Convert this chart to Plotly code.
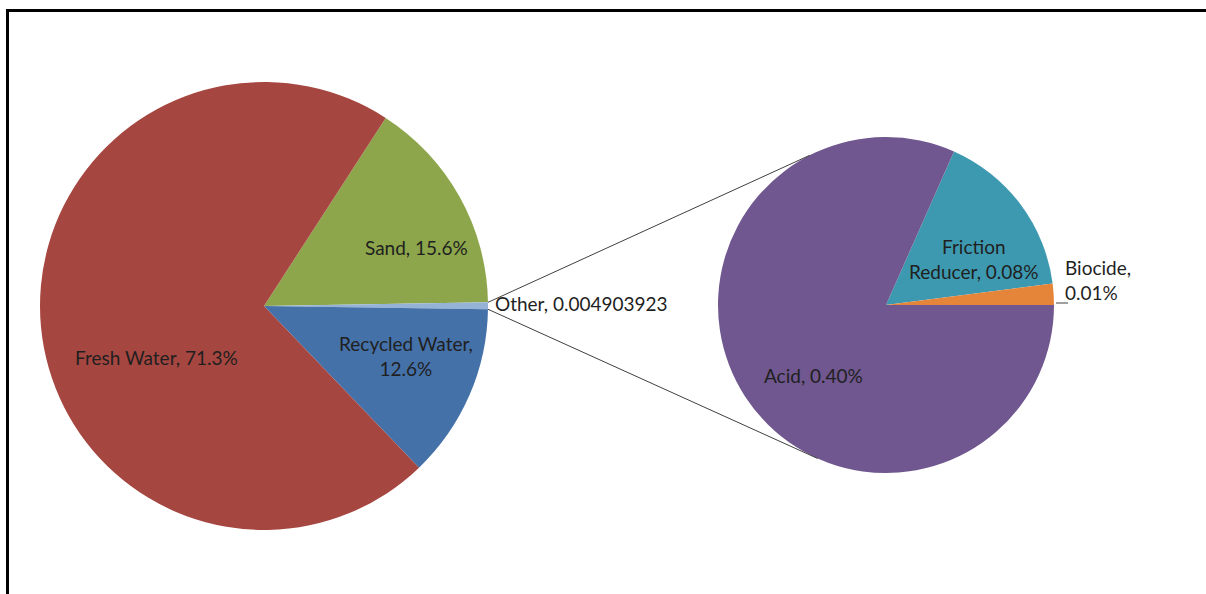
import math
import plotly.graph_objects as go

# ---------------- data ----------------
main_labels = ["Sand", "Other", "Recycled Water", "Fresh Water"]
main_values = [15.6, 0.4903923, 12.6, 71.3]          # percent
main_colors = ["#8DA64B", "#95B3D7", "#4571A9", "#A64640"]

sub_labels = ["Friction Reducer", "Biocide", "Acid"]
sub_values = [0.08, 0.01, 0.40]                     # percent
sub_colors = ["#3D99B0", "#E5853A", "#70578F"]

# ---------------- geometry (pixels) ----------------
W, H = 1206, 594
L_CX, L_CY, L_R = 264, 306, 224
R_CX, R_CY, R_R = 886, 305, 168
FONT = dict(family="Lato, 'Open Sans', sans-serif", size=19, color="#1f1f1f")


def px(x):
    return x / W


def py(y):
    return 1 - y / H


def dom(cx, cy, r):
    return dict(x=[px(cx - r), px(cx + r)], y=[py(cy + r), py(cy - r)])


main_total = sum(main_values)
main_rotation = 32.9
start_angle = 90 - main_rotation   # math angle where the first (Sand) slice starts

sub_total = sum(sub_values)
# secondary pie: Biocide slice starts at 3 o'clock, slices run clockwise from Friction
sub_rotation = 90 - 360 * (sub_values[0] + sub_values[1]) / sub_total

fig = go.Figure()
fig.add_trace(go.Pie(
    labels=main_labels, values=main_values, sort=False,
    direction="clockwise", rotation=main_rotation,
    marker=dict(colors=main_colors, line=dict(width=0)),
    textinfo="none", hoverinfo="label+value", showlegend=False,
    domain=dom(L_CX, L_CY, L_R),
))
fig.add_trace(go.Pie(
    labels=sub_labels, values=sub_values, sort=False,
    direction="clockwise", rotation=sub_rotation,
    marker=dict(colors=sub_colors, line=dict(width=0)),
    textinfo="none", hoverinfo="label+value", showlegend=False,
    domain=dom(R_CX, R_CY, R_R),
))

# --- connector lines from the "Other" slice to the secondary pie ---
a0 = start_angle - 360 * main_values[0] / main_total
a1 = a0 - 360 * main_values[1] / main_total
shapes = []
for a_main, a_sub in [(a0, 117), (a1, -114)]:
    x0 = L_CX + L_R * math.cos(math.radians(a_main))
    y0 = L_CY - L_R * math.sin(math.radians(a_main))
    x1 = R_CX + R_R * math.cos(math.radians(a_sub))
    y1 = R_CY - R_R * math.sin(math.radians(a_sub))
    shapes.append(dict(type="line", xref="paper", yref="paper",
                       x0=px(x0), y0=py(y0), x1=px(x1), y1=py(y1),
                       line=dict(color="#404040", width=1)))

# biocide leader line
shapes.append(dict(type="line", xref="paper", yref="paper",
                   x0=px(1056), y0=py(303), x1=px(1068), y1=py(303),
                   line=dict(color="#404040", width=1)))

# frame (top and left edges)
shapes.append(dict(type="line", xref="paper", yref="paper",
                   x0=px(6), y0=py(10.5), x1=1, y1=py(10.5),
                   line=dict(color="black", width=3)))
shapes.append(dict(type="line", xref="paper", yref="paper",
                   x0=px(7.5), y0=py(9), x1=px(7.5), y1=0,
                   line=dict(color="black", width=3)))

# --- labels ---
def pct(v):
    return f"{v:.1f}%"


label_text = {
    "Sand": f"{main_labels[0]}, {pct(main_values[0])}",
    "Other": f"{main_labels[1]}, {main_values[1] / 100:.9f}",
    "Recycled Water": f"{main_labels[2]},<br>{pct(main_values[2])}",
    "Fresh Water": f"{main_labels[3]}, {pct(main_values[3])}",
    "Biocide": f"{sub_labels[1]},<br>{sub_values[1]:.2f}%",
    "Friction Reducer": "Friction<br>Reducer, " + f"{sub_values[0]:.2f}%",
    "Acid": f"{sub_labels[2]}, {sub_values[2]:.2f}%",
}
label_pos = {
    "Sand": (416, 247, "center"),
    "Other": (493, 303, "left"),
    "Recycled Water": (406, 356, "center"),
    "Fresh Water": (156, 357, "center"),
    "Biocide": (1063, 280, "left"),
    "Friction Reducer": (974, 259, "center"),
    "Acid": (813, 375, "center"),
}
annotations = []
for k, txt in label_text.items():
    x, y, anchor = label_pos[k]
    annotations.append(dict(
        x=px(x), y=py(y), xref="paper", yref="paper", text=txt,
        showarrow=False, xanchor=anchor, yanchor="middle",
        align="center" if anchor == "center" else "left",
        font=FONT,
    ))

fig.update_layout(
    width=W, height=H, autosize=False,
    margin=dict(l=0, r=0, t=0, b=0),
    paper_bgcolor="white", plot_bgcolor="white",
    shapes=shapes, annotations=annotations,
    font=FONT,
)

fig.write_html("out.html")
